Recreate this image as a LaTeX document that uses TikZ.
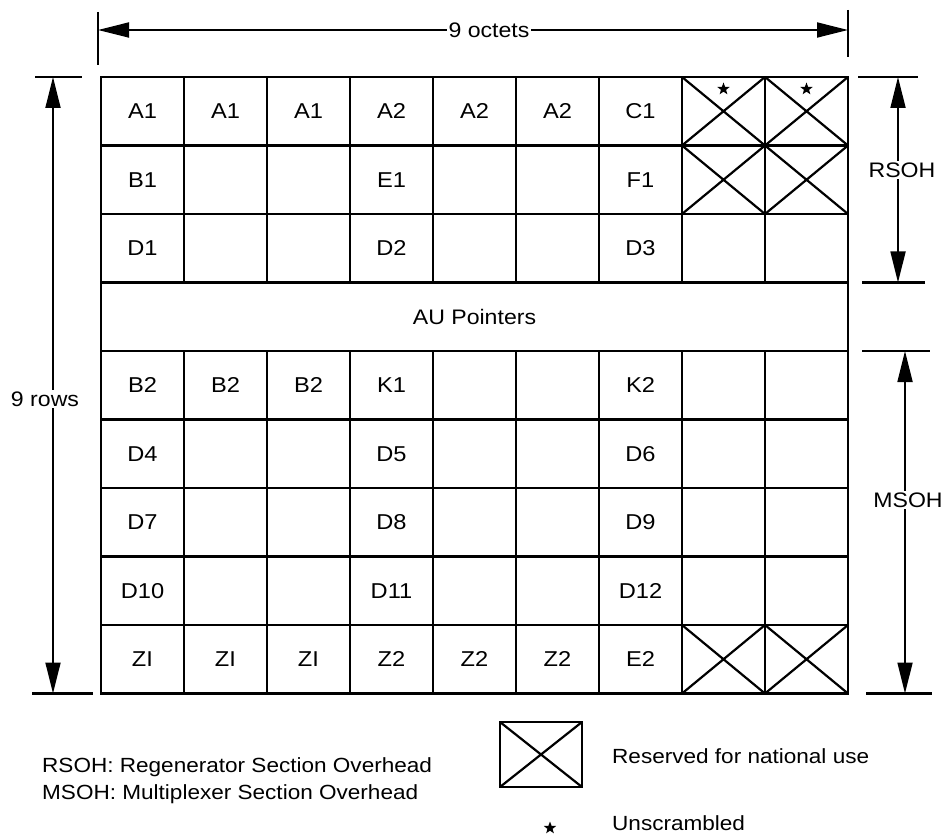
\documentclass[tikz,border=0pt]{standalone}
\usepackage{fontspec}
\setmainfont[FakeStretch=1.1]{Liberation Sans}
\usetikzlibrary{arrows.meta,shapes.geometric}
\begin{document}
\begin{tikzpicture}[x=1pt,y=-1pt,
  cell/.style={draw, line width=2.2pt, minimum width=83pt, minimum height=68.5pt, inner sep=0pt, outer sep=0pt, font=\fontsize{21.5}{25}\selectfont},
  dimarrow/.style={line width=1.8pt, {Triangle[length=31pt,width=15pt]}-{Triangle[length=31pt,width=15pt]}},
  tickline/.style={line width=2.2pt},
  lbl/.style={fill=white, inner sep=2pt, font=\fontsize{21}{25}\selectfont},
  xcross/.style={line width=2.2pt},
  unscr/.style={star, star points=5, star point ratio=2.4, fill=black, draw=none, inner sep=0pt, minimum size=13pt},
  leg/.style={anchor=base west, inner sep=0pt, font=\fontsize{20.5}{24}\selectfont}]
\useasboundingbox (0,0) rectangle (948,837);
% grid
\foreach \r/\lst in {1/{A1,A1,A1,A2,A2,A2,C1,{},{}},
                     2/{B1,{},{},E1,{},{},F1,{},{}},
                     3/{D1,{},{},D2,{},{},D3,{},{}},
                     5/{B2,B2,B2,K1,{},{},K2,{},{}},
                     6/{D4,{},{},D5,{},{},D6,{},{}},
                     7/{D7,{},{},D8,{},{},D9,{},{}},
                     8/{D10,{},{},D11,{},{},D12,{},{}},
                     9/{ZI,ZI,ZI,Z2,Z2,Z2,E2,{},{}}}{
  \foreach \t [count=\c] in \lst {
    \node[cell] (c-\r-\c) at ({101+83*(\c-0.5)},{77+68.5*(\r-0.5)}) {};
    \node[inner sep=0pt, font=\fontsize{21.5}{25}\selectfont] (t-\r-\c) at (c-\r-\c.center) {\t};
  }
}
\node[cell, minimum width=747pt, font=\fontsize{21}{25}\selectfont] (au) at (474.5,{77+68.5*3.5}) {AU Pointers};
% reserved cells
\foreach \r/\c in {1/8,1/9,2/8,2/9,9/8,9/9}{
  \draw[xcross] (c-\r-\c.north west) -- (c-\r-\c.south east)
                (c-\r-\c.north east) -- (c-\r-\c.south west);
}
\node[unscr, yshift=-12pt] (s1) at (c-1-8.north) {};
\node[unscr, yshift=-12pt] (s2) at (c-1-9.north) {};
% top dimension
\coordinate (ta1) at (98,12);  \coordinate (ta2) at (98,65);
\coordinate (tb1) at (848,10); \coordinate (tb2) at (848,57);
\draw[tickline] (ta1) -- (ta2) (tb1) -- (tb2);
\coordinate (oa) at (98,30); \coordinate (ob) at (848,30);
\draw[dimarrow] (oa) -- (ob);
\node[lbl] (octets) at (489,30) {9 octets};
% left dimension
\coordinate (la1) at (35,77); \coordinate (la2) at (82,77);
\coordinate (lb1) at (32,693.5); \coordinate (lb2) at (93,693.5);
\draw[tickline] (la1) -- (la2) (lb1) -- (lb2);
\coordinate (ra) at (53,77); \coordinate (rb) at (53,693.5);
\draw[dimarrow] (ra) -- (rb);
\node[lbl] (rows) at (45,399) {9 rows};
% RSOH
\coordinate (rs1) at (858,77); \coordinate (rs2) at (918,77);
\coordinate (rs3) at (862,282.5); \coordinate (rs4) at (925,282.5);
\draw[tickline] (rs1) -- (rs2) (rs3) -- (rs4);
\coordinate (rsa) at (898,77); \coordinate (rsb) at (898,282.5);
\draw[dimarrow] (rsa) -- (rsb);
\node[lbl] (rsoh) at (902,170) {RSOH};
% MSOH
\coordinate (ms1) at (862,351); \coordinate (ms2) at (930,351);
\coordinate (ms3) at (866,693.5); \coordinate (ms4) at (932,693.5);
\draw[tickline] (ms1) -- (ms2) (ms3) -- (ms4);
\coordinate (msa) at (905,351); \coordinate (msb) at (905,693.5);
\draw[dimarrow] (msa) -- (msb);
\node[lbl] (msoh) at (908,500) {MSOH};
% legend
\node[leg] (l1) at (42,772) {RSOH: Regenerator Section Overhead};
\node[leg] (l2) at (42,799) {MSOH: Multiplexer Section Overhead};
\node[draw, line width=2.2pt, minimum width=82pt, minimum height=65pt, inner sep=0pt, outer sep=0pt] (legbox) at (541,754.5) {};
\draw[xcross] (legbox.north west) -- (legbox.south east) (legbox.north east) -- (legbox.south west);
\node[leg] (l3) at (612,763) {Reserved for national use};
\node[unscr] (s3) at (550,828) {};
\node[leg] (l4) at (612,830) {Unscrambled};
\end{tikzpicture}
\end{document}
